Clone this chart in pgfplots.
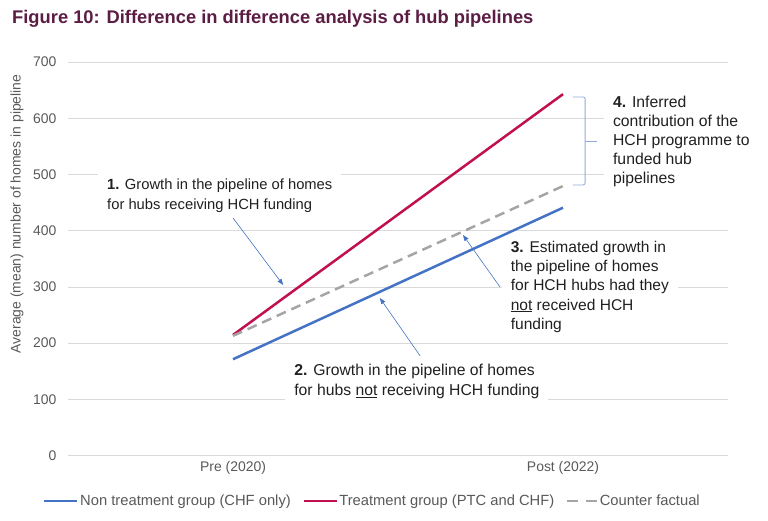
\documentclass[border=0pt]{standalone}
\usepackage{pgfplots}
\pgfplotsset{compat=1.18}
\usepackage{fontspec}
\setmainfont{Liberation Sans}
\usetikzlibrary{arrows.meta}
\definecolor{titlecol}{HTML}{5C1D44}
\definecolor{cblue}{HTML}{4472C4}
\definecolor{cred}{HTML}{C0104F}
\definecolor{cgray}{HTML}{A5A5A5}
\definecolor{cgrid}{HTML}{D9D9D9}
\definecolor{ctick}{HTML}{595959}
\definecolor{ctext}{HTML}{202020}
\definecolor{cbrace}{HTML}{8FAADC}
\pgfplotsset{dashleg/.style={legend image code/.code={\draw[##1, dash pattern=on 11bp off 8bp] (0bp,0bp) -- (30bp,0bp);}}}
\begin{document}
\begin{tikzpicture}
\path[use as bounding box] (0,0) rectangle (768bp,521bp);
\node[anchor=base west, inner sep=0, text=titlecol, font=\fontsize{18.4}{22}\selectfont\bfseries] at (12bp,497.7bp) {Figure 10: Difference in difference analysis of hub pipelines};
\begin{axis}[
  at={(68bp,65.4bp)}, anchor=south west,
  scale only axis, width=660bp, height=393.5bp,
  clip=false,
  xmin=-0.5, xmax=1.5, ymin=0, ymax=700,
  xtick={0,1}, xticklabels={Pre (2020), Post (2022)},
  ytick={0,100,...,700},
  ymajorgrids, grid style={cgrid, line width=0.75bp},
  axis line style={draw=none}, tick style={draw=none},
  /pgf/number format/assume math mode=true,
  ticklabel style={font=\fontsize{14}{16}\selectfont, text=ctick},
  yticklabel style={xshift=-8bp},
  xticklabel style={yshift=-2bp},
  ylabel={Average (mean) number of homes in pipeline},
  ylabel style={at={(axis description cs:-0.0773,0.614)}, anchor=center, font=\fontsize{14}{16}\selectfont, text=ctick},
  legend style={at={(axis description cs:0.461,-0.1154)}, anchor=center, draw=none, fill=none,
    legend columns=3, font=\fontsize{14.8}{16}\selectfont, text=ctick,
    /tikz/every even column/.append style={column sep=10bp},
    nodes={inner xsep=1.5bp}},
  legend image code/.code={\draw[#1] (0bp,0bp) -- (33bp,0bp);},
]
\addplot[cblue, line width=2.5bp] coordinates {(0,171.4) (1,441)};
\addlegendentry{Non treatment group (CHF only)}
\addplot[cred, line width=2.5bp] coordinates {(0,214.6) (1,643)};
\addlegendentry{Treatment group (PTC and CHF)}
\addplot[cgray, line width=2.5bp, dash pattern=on 10bp off 6bp, dashleg] coordinates {(0,213) (1,479.5)};
\addlegendentry{Counter factual}

\draw[cblue, line width=0.6bp, -{Triangle[length=6bp,width=4.5bp]}] (axis cs:0.0,422.8) -- (axis cs:0.152,303.6);
\draw[cblue, line width=0.6bp, -{Triangle[length=6bp,width=4.5bp]}] (axis cs:0.567,177.4) -- (axis cs:0.445,280.4);
\draw[cblue, line width=0.6bp, -{Triangle[length=6bp,width=4.5bp]}] (axis cs:0.809,300) -- (axis cs:0.697,392.5);
\draw[cbrace, line width=0.8bp, rounded corners=2bp] (axis cs:1.03,638) -- (axis cs:1.067,638) -- (axis cs:1.067,481.5) -- (axis cs:1.03,481.5);
\draw[cbrace, line width=0.8bp] (axis cs:1.067,559.4) -- (axis cs:1.103,559.4);

\node[anchor=base west, fill=white, inner xsep=9bp, inner ysep=5bp, align=left, text=ctext, font=\fontsize{14.8}{19.3}\selectfont] at (axis cs:-0.409,438.3)
  {\textbf{1.} Growth in the pipeline of homes\\for hubs receiving HCH funding};
\node[anchor=base west, fill=white, inner xsep=9bp, inner ysep=4bp, align=left, text=ctext, font=\fontsize{15.8}{20}\selectfont] at (axis cs:0.158,106.6)
  {\textbf{2.} Growth in the pipeline of homes\\for hubs \underline{not} receiving HCH funding};
\node[anchor=base west, fill=white, inner xsep=9bp, inner ysep=2.5bp, align=left, text=ctext, font=\fontsize{15.6}{19.3}\selectfont] at (axis cs:0.814,224.7)
  {\textbf{3.} Estimated growth in\\the pipeline of homes\\for HCH hubs had they\\\underline{not} received HCH\\funding};
\node[anchor=base west, fill=white, inner xsep=9bp, inner ysep=4bp, align=left, text=ctext, font=\fontsize{15.8}{19}\selectfont] at (axis cs:1.124,484.5)
  {\textbf{4.} Inferred\\contribution of the\\HCH programme to\\funded hub\\pipelines};
\end{axis}
\end{tikzpicture}
\end{document}
